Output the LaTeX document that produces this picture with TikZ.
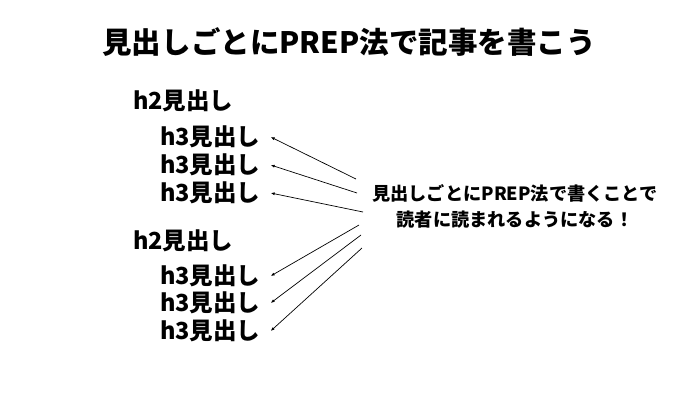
\documentclass[tikz,border=0pt]{standalone}
\usepackage{fontspec}
\newfontfamily\jpfont{Noto Sans CJK JP}
\usetikzlibrary{arrows.meta,positioning}
\tikzset{
    x=1pt,y=-1pt,
    title/.style={font=\jpfont\bfseries\fontsize{29.5}{31}\selectfont, inner sep=0pt},
    htwo/.style={font=\jpfont\bfseries\fontsize{23.5}{25}\selectfont, inner sep=0pt, anchor=west},
    hthree/.style={font=\jpfont\bfseries\fontsize{23.5}{25}\selectfont, inner xsep=10pt, inner ysep=0pt, anchor=west},
    note/.style={font=\jpfont\bfseries\fontsize{18.2}{26}\selectfont, align=center, inner sep=0pt},
    arr/.style={-{Latex[length=4pt,width=3pt]}, line width=0.7pt}
}
\begin{document}
\begin{tikzpicture}
    \useasboundingbox (0,0) rectangle (700,400);
    \node[title] (t) at (349,42) {見出しごとにPREP法で記事を書こう};

    \node[htwo] (h2a) at (133,101) {h2見出し};
    \node[hthree] (a1) at (150,137) {h3見出し};
    \node[hthree] (a2) at (150,165) {h3見出し};
    \node[hthree] (a3) at (150,193) {h3見出し};

    \node[htwo] (h2b) at (133,241) {h2見出し};
    \node[hthree] (b1) at (150,276) {h3見出し};
    \node[hthree] (b2) at (150,303) {h3見出し};
    \node[hthree] (b3) at (150,331) {h3見出し};

    \node[note] (n) at (515,206) {見出しごとにPREP法で書くことで\\読者に読まれるようになる！};

    % start points near the note
    \coordinate (s1) at (356,179);
    \coordinate (s2) at (357,193);
    \coordinate (s3) at (363,212);
    \coordinate (s4) at (359,225);
    \coordinate (s5) at (361,235);
    \coordinate (s6) at (362,248);

    \draw[arr] (s1) -- (a1.east);
    \draw[arr] (s2) -- (a2.east);
    \draw[arr] (s3) -- (a3.east);
    \draw[arr] (s4) -- (b1.east);
    \draw[arr] (s5) -- (b2.east);
    \draw[arr] (s6) -- (b3.east);
\end{tikzpicture}
\end{document}
